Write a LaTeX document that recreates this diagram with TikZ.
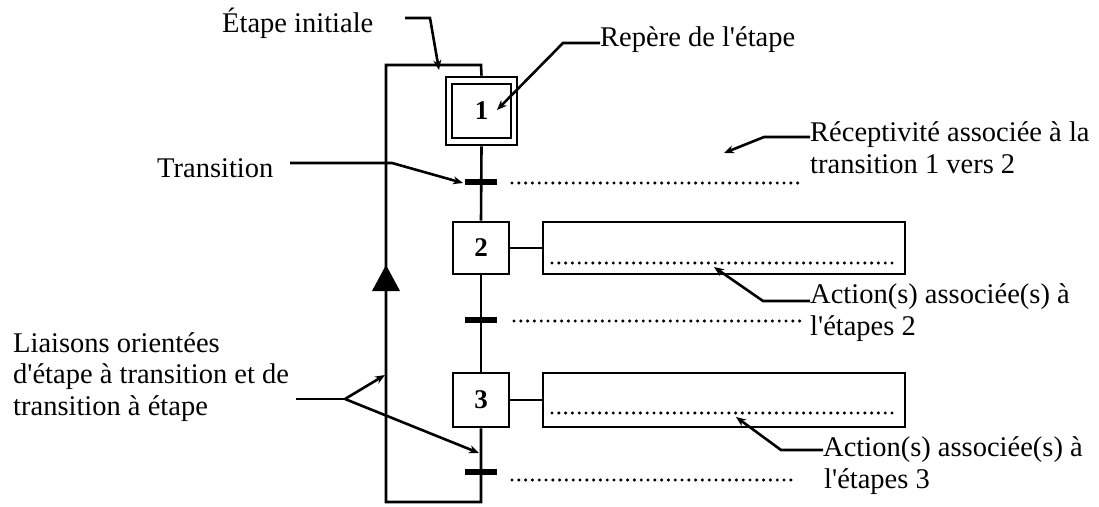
\documentclass[tikz,border=0pt]{standalone}
\usepackage{fontspec}
\setmainfont{Liberation Serif}
\usetikzlibrary{arrows.meta}
\newcommand{\apos}{\textquotesingle}
\begin{document}
\begin{tikzpicture}[x=1pt,y=-1pt,
  ln/.style={line width=2.6pt},
  lead/.style={line width=2.6pt,-{Stealth[length=10pt,width=8pt]}},
  stepbox/.style={draw,line width=2.6pt,inner sep=0pt,font=\fontsize{27}{30}\selectfont\bfseries},
  actbox/.style={draw,line width=2.6pt,inner sep=0pt,minimum width=362pt},
  bar/.style={line width=5.5pt},
  dots/.style={line width=3.4pt,dash pattern=on 0pt off 6.8pt,line cap=round},
  lbl/.style={anchor=base west,inner sep=0pt,align=left,font=\fontsize{28.5}{31.5}\selectfont}]
\useasboundingbox (0,0) rectangle (1099,506);
% steps
\node[stepbox,minimum width=71pt,minimum height=68pt] (s1o) at (481.5,111) {};
\node[stepbox,minimum width=59pt,minimum height=54pt] (s1) at (481.5,111) {1};
\node[stepbox,minimum width=56pt,minimum height=52pt] (s2) at (481,248) {2};
\node[stepbox,minimum width=56pt,minimum height=54pt] (s3) at (481,400) {3};
% action boxes
\node[actbox,minimum height=52pt] (a2) at (724,248) {};
\node[actbox,minimum height=54pt] (a3) at (724,400) {};
% transitions
\coordinate (t1) at (481,182);
\coordinate (t2) at (481,320);
\coordinate (t3) at (481,472);
\coordinate (br) at (481,502);
\coordinate (bl) at (386,502);
\coordinate (tl) at (386,65);
\coordinate (tr) at (481,65);
% links
\draw[ln] (s1o.south) -- (s2.north);
\draw[ln] (s2.south) -- (s3.north);
\draw[ln] (s3.south) -- (br) -- (bl) -- (tl) -- (tr) -- (s1o.north);
\draw[ln] (s2.east) -- (a2.west);
\draw[ln] (s3.east) -- (a3.west);
\draw[bar] ([xshift=-16pt]t1) -- ([xshift=16pt]t1);
\draw[bar] ([xshift=-16pt]t2) -- ([xshift=16pt]t2);
\draw[bar] ([xshift=-16pt]t3) -- ([xshift=16pt]t3);
% arrowhead on return line
\coordinate (ah) at (386,265);
\fill (ah) -- ++(-14,26) -- ++(28,0) -- cycle;
% dotted lines
\draw[dots] (512,183) -- (800,183);
\draw[dots] (514,321) -- (800,321);
\draw[dots] (512,480) -- (797,480);
\draw[dots] (552,263) -- (896,263);
\draw[dots] (552,413) -- (896,413);
% labels
\node[lbl] (Linit) at (222,32) {Étape initiale};
\node[lbl] (Lrep) at (600,46) {Repère de l\apos étape};
\node[lbl] (Ltr) at (157,177) {Transition};
\node[lbl] (Lrec) at (810,173) {Réceptivité associée à la\\transition 1 vers 2};
\node[lbl] (La2) at (810,335) {Action(s) associée(s) à\\l\apos étapes 2};
\node[lbl] (La3) at (823,488) {Action(s) associée(s) à\\\hspace*{1pt}l\apos étapes 3};
\node[lbl] (Lli) at (13,415) {Liaisons orientées\\d\apos étape à transition et de\\transition à étape};
% leaders
\coordinate (e1) at (405,18);
\draw[lead] (e1) -- (430,18) -- (439,70);
\coordinate (e2) at (600,43);
\draw[lead] (e2) -- (563,43) -- (497,110);
\coordinate (e3) at (290,163);
\draw[lead] (e3) -- (392,163) -- (463,183);
\coordinate (e4) at (810,137);
\draw[lead] (e4) -- (764,137) -- (724,153);
\coordinate (e5) at (810,301);
\draw[lead] (e5) -- (763,301) -- (714,267);
\coordinate (e6) at (823,450);
\draw[lead] (e6) -- (781,450) -- (736,417);
\coordinate (e7) at (296,399);
\coordinate (fork) at (345,399);
\draw[ln] (e7) -- (fork);
\draw[lead] (fork) -- (385,375);
\draw[lead] (fork) -- (479,453);
\end{tikzpicture}
\end{document}
